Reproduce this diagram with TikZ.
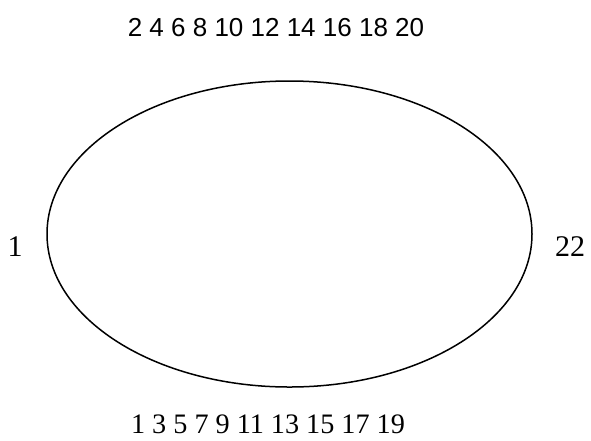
\documentclass[tikz,border=0pt]{standalone}
\usepackage{fontspec}
\setmainfont{Liberation Serif}
\newfontfamily\arialfont{Liberation Sans}
\usepackage{tikz}
\usetikzlibrary{shapes.geometric}

\begin{document}
\begin{tikzpicture}[x=1pt, y=-1pt,
                    ringshape/.style={draw=black, ellipse, line width=1.5pt,
                                  minimum width=485pt, minimum height=306pt, inner sep=0pt},
                    evenlbl/.style={anchor=base, inner sep=0pt,
                                  font=\arialfont\fontsize{26}{30}\selectfont},
                    oddlbl/.style={anchor=base, inner sep=0pt,
                                  font=\fontsize{28.2}{32}\selectfont},
                    endlbl/.style={anchor=base, inner sep=0pt,
                                  font=\fontsize{30}{34}\selectfont}
                ]
                    \useasboundingbox (0,0) rectangle (591,440);
                    \node[ringshape] (ring) at (289.5,234) {};
                    \node[evenlbl] (evens) at (276,36) {2 4 6 8 10 12 14 16 18 20};
                    \node[oddlbl] (odds) at (268,433) {1 3 5 7 9 11 13 15 17 19};
                    \node[endlbl] (first) at (15,256) {1};
                    \node[endlbl] (last) at (570,256) {22};
                \end{tikzpicture}
\end{document}
